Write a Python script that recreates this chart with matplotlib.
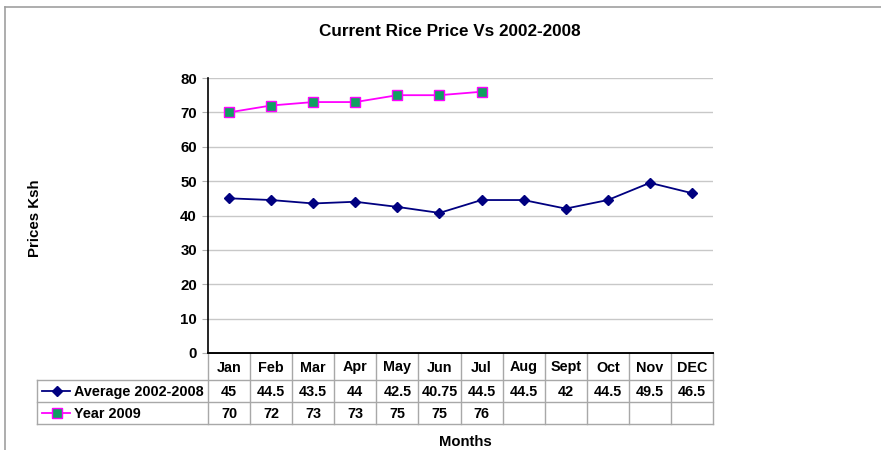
import matplotlib
matplotlib.use("Agg")
import matplotlib.pyplot as plt
from matplotlib.lines import Line2D

plt.rcParams['font.family'] = ['Liberation Sans', 'DejaVu Sans']
plt.rcParams['font.weight'] = 'bold'

months = ["Jan", "Feb", "Mar", "Apr", "May", "Jun", "Jul", "Aug", "Sept", "Oct", "Nov", "DEC"]
avg_label = "Average 2002-2008"
avg_values = [45, 44.5, 43.5, 44, 42.5, 40.75, 44.5, 44.5, 42, 44.5, 49.5, 46.5]
y2009_label = "Year 2009"
y2009_values = [70, 72, 73, 73, 75, 75, 76]
y_ticks = [0, 10, 20, 30, 40, 50, 60, 70, 80]

W, H = 881, 450
fig = plt.figure(figsize=(W / 100, H / 100), dpi=100)

# overlay in pixel coordinates for frame and table
ov = fig.add_axes([0, 0, 1, 1], zorder=0)
ov.set_xlim(0, W)
ov.set_ylim(H, 0)
ov.axis('off')

# chart area frame (top & left visible)
ov.plot([5, W], [7, 7], color='#a0a0a0', lw=1.2)
ov.plot([5, 5], [7, H], color='#a0a0a0', lw=1.2)

L, R, T, B = 208, 713, 78, 353
ax = fig.add_axes([L / W, 1 - B / H, (R - L) / W, (B - T) / H], zorder=2)
ax.patch.set_alpha(0)
x = list(range(len(months)))
ax.set_xlim(-0.5, len(months) - 0.5)
ax.set_ylim(0, 80)
ax.set_yticks(y_ticks)
ax.set_yticklabels([str(v) for v in y_ticks], fontsize=10.8, fontweight='bold')
ax.set_xticks([])
ax.grid(axis='y', color='#c8c8c8', lw=1)
ax.set_axisbelow(True)
for s in ['top', 'right']:
    ax.spines[s].set_visible(False)
ax.spines['left'].set_color('black')
ax.spines['bottom'].set_color('black')
ax.spines['left'].set_linewidth(1.2)
ax.spines['bottom'].set_linewidth(1.2)
ax.tick_params(axis='y', length=4, color='#b0b0b0', pad=4)

navy = '#000080'
mag = '#ff00ff'
green = '#10a060'
ax.plot(x, avg_values, color=navy, lw=1.3, marker='D', ms=5, mfc=navy, mec=navy, clip_on=False)
ax.plot(x[:len(y2009_values)], y2009_values, color=mag, lw=1.3, marker='s', ms=7,
        mfc=green, mec=mag, mew=1, clip_on=False)

fig.text(450 / W, 1 - 32 / H, "Current Rice Price Vs 2002-2008", ha='center', va='center',
         fontsize=12.3, fontweight='bold')
fig.text(35 / W, 1 - 218 / H, "Prices Ksh", ha='center', va='center', rotation=90,
         fontsize=10.8, fontweight='bold')
fig.text(465 / W, 1 - 442 / H, "Months", ha='center', va='center', fontsize=10.7, fontweight='bold')

# data table
cw = (R - L) / len(months)
rows_y = [353, 380, 402, 424]
grid_c = '#a8a8a8'
legend_left = 37
fs = 10.4
# horizontal lines
ov.plot([L, R], [rows_y[0], rows_y[0]], color='black', lw=1.2, zorder=3)
for yy in rows_y[1:]:
    ov.plot([legend_left, R], [yy, yy], color=grid_c, lw=1, zorder=1)
# vertical lines
for i in range(len(months) + 1):
    ov.plot([L + i * cw, L + i * cw], [rows_y[0], rows_y[3]], color=grid_c, lw=1, zorder=1)
ov.plot([legend_left, legend_left], [rows_y[1], rows_y[3]], color=grid_c, lw=1, zorder=1)

for i, m in enumerate(months):
    cx = L + (i + 0.5) * cw
    ov.text(cx, (rows_y[0] + rows_y[1]) / 2 + 1, m, ha='center', va='center', fontsize=fs, fontweight='bold')
    ov.text(cx, (rows_y[1] + rows_y[2]) / 2 + 1, f"{avg_values[i]:g}", ha='center', va='center',
            fontsize=fs, fontweight='bold')
    if i < len(y2009_values):
        ov.text(cx, (rows_y[2] + rows_y[3]) / 2 + 1, f"{y2009_values[i]:g}", ha='center', va='center',
                fontsize=fs, fontweight='bold')

# legend keys inside table
ly1 = (rows_y[1] + rows_y[2]) / 2
ly2 = (rows_y[2] + rows_y[3]) / 2
ov.add_line(Line2D([42, 70], [ly1, ly1], color=navy, lw=1.3))
ov.plot([57], [ly1], marker='D', ms=5, color=navy)
ov.add_line(Line2D([42, 70], [ly2, ly2], color=mag, lw=1.3))
ov.plot([57], [ly2], marker='s', ms=7, mfc=green, mec=mag)
ov.text(74, ly1 + 1, avg_label, ha='left', va='center', fontsize=fs, fontweight='bold')
ov.text(74, ly2 + 1, y2009_label, ha='left', va='center', fontsize=fs, fontweight='bold')

fig.savefig("out.png", dpi=100)
